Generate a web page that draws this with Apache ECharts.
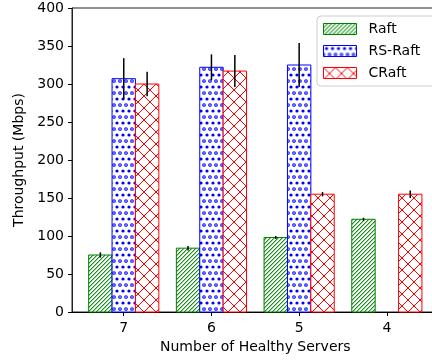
<!DOCTYPE html>
<html>
<head>
<meta charset="utf-8">
<script src="https://cdn.jsdelivr.net/npm/echarts@6/dist/echarts.min.js"></script>
<style>
  html, body { margin: 0; padding: 0; background: #fff; }
  #chart { width: 432px; height: 360px; }
</style>
</head>
<body>
<div id="chart"></div>
<script>
// Throughput per protocol as servers fail
const categories = ['7', '6', '5', '4'];
const seriesNames = ['Raft', 'RS-Raft', 'CRaft'];
const raft = [75, 84, 98, 122];
const raftErr = [3.5, 3, 2, 2];
const rsRaft = [307, 322, 325, null];
const rsRaftErr = [27, 17, 29, null];
const cRaft = [300, 317, 155, 155];
const cRaftErr = [16, 21, 3, 5];
const yTicks = [0, 50, 100, 150, 200, 250, 300, 350, 400];

const FONT = 'DejaVu Sans';
const BAR_W = 0.8 / 3;
const COLORS = ['#008000', '#0000ff', '#ff0000'];

// --- hatch tiles ---------------------------------------------------------
function tile(w, h, draw) {
  const c = document.createElement('canvas');
  c.width = w; c.height = h;
  const ctx = c.getContext('2d');
  ctx.fillStyle = '#fff';
  ctx.fillRect(0, 0, w, h);
  draw(ctx);
  return { image: c, repeat: 'repeat' };
}
function diagHatch(color, soft) {     // '///' drawn as a pixel staircase
  return tile(4, 4, ctx => {
    for (let y = 0; y < 4; y++) {
      for (let x = 0; x < 4; x++) {
        const d = (x + y) % 4;
        if (d === 3) { ctx.fillStyle = color; ctx.fillRect(x, y, 1, 1); }
        else if (d === 0) { ctx.fillStyle = soft; ctx.fillRect(x, y, 1, 1); }
      }
    }
  });
}
function crossHatch(color) {          // 'x'
  return tile(12, 12, ctx => {
    ctx.strokeStyle = color; ctx.lineWidth = 1;
    ctx.beginPath();
    ctx.moveTo(-1, -1); ctx.lineTo(13, 13);
    ctx.moveTo(-1, 13); ctx.lineTo(13, -1);
    ctx.moveTo(-1, 1); ctx.lineTo(1, -1);
    ctx.moveTo(11, 13); ctx.lineTo(13, 11);
    ctx.moveTo(11, -1); ctx.lineTo(13, 1);
    ctx.moveTo(-1, 11); ctx.lineTo(1, 13);
    ctx.stroke();
  });
}
function dotHatch(color) {            // small circles, staggered rows
  return tile(6, 12, ctx => {
    ctx.fillStyle = color; ctx.strokeStyle = color;
    ctx.beginPath(); ctx.arc(3, 3, 1.6, 0, Math.PI * 2); ctx.fill();
    ctx.lineWidth = 1.1;
    [0, 6].forEach(x => {
      ctx.beginPath(); ctx.arc(x, 9, 1.3, 0, Math.PI * 2); ctx.stroke();
    });
  });
}
const patterns = [diagHatch('#109010', '#9fd49f'), dotHatch(COLORS[1]), crossHatch(COLORS[2])];

// --- renderers -----------------------------------------------------------
function barRenderer(k) {
  const offset = (k - 1) * BAR_W;
  return function (params, api) {
    const xi = api.value(0), v = api.value(1);
    if (v == null || isNaN(v)) return;
    const left = xi + offset - BAR_W / 2;
    const p0 = api.coord([left, v]);
    const p1 = api.coord([left + BAR_W, 0]);
    return {
      type: 'rect',
      shape: { x: p0[0], y: p0[1], width: p1[0] - p0[0], height: p1[1] - p0[1] },
      style: { fill: patterns[k], stroke: COLORS[k], lineWidth: 1 }
    };
  };
}
function errRenderer(k) {
  const offset = (k - 1) * BAR_W;
  return function (params, api) {
    const xi = api.value(0), v = api.value(1), e = api.value(2);
    if (v == null || isNaN(v) || isNaN(e)) return;
    const a = api.coord([xi + offset, v - e]);
    const b = api.coord([xi + offset, v + e]);
    return {
      type: 'line',
      shape: { x1: a[0], y1: a[1], x2: b[0], y2: b[1] },
      style: { stroke: '#000', lineWidth: 1.5 }
    };
  };
}

const values = [raft, rsRaft, cRaft];
const errors = [raftErr, rsRaftErr, cRaftErr];
const series = [];
values.forEach((vals, k) => {
  series.push({
    name: seriesNames[k],
    type: 'custom',
    renderItem: barRenderer(k),
    itemStyle: { color: patterns[k], borderColor: COLORS[k], borderWidth: 1 },
    encode: { x: 0, y: 1 },
    data: vals.map((v, i) => [i, v == null ? NaN : v]),
    z: 2
  });
});
values.forEach((vals, k) => {
  series.push({
    name: seriesNames[k] + ' error',
    type: 'custom',
    renderItem: errRenderer(k),
    encode: { x: 0, y: 1 },
    data: vals.map((v, i) => [i, v == null ? NaN : v, errors[k][i] == null ? NaN : errors[k][i]]),
    z: 5
  });
});

const tickIdx = categories.map((c, i) => i);
const chart = echarts.init(document.getElementById('chart'), null, { renderer: 'canvas' });
chart.setOption({
  animation: false,
  textStyle: { fontFamily: FONT },
  grid: {
    left: 72, top: 8, right: -6.6, bottom: 48,
    show: true, borderColor: '#222', borderWidth: 1, backgroundColor: 'transparent',
    outerBoundsMode: 'none', containLabel: false
  },
  legend: {
    orient: 'vertical', left: 317, top: 16,
    itemWidth: 33, itemHeight: 11, itemGap: 8,
    padding: [6, 40, 6, 6],
    borderColor: '#cccccc', borderWidth: 1, borderRadius: 4,
    backgroundColor: 'rgba(255,255,255,0.8)',
    textStyle: { fontFamily: FONT, fontSize: 14, color: '#000', padding: [0, 0, 0, 7] },
    selectedMode: false,
    data: seriesNames.map((n, k) => ({
      name: n, icon: 'rect',
      itemStyle: { color: patterns[k], borderColor: COLORS[k], borderWidth: 1 }
    }))
  },
  xAxis: {
    type: 'value', min: -0.59, max: 3.59,
    name: 'Number of Healthy Servers', nameLocation: 'middle', nameGap: 25,
    nameTextStyle: { fontFamily: FONT, fontSize: 14, color: '#000' },
    axisLine: { show: true, onZero: false, lineStyle: { color: '#000', width: 1 } },
    axisTick: { show: true, customValues: tickIdx, length: 4, lineStyle: { color: '#000' } },
    axisLabel: {
      customValues: tickIdx, margin: 9,
      fontFamily: FONT, fontSize: 14, color: '#000',
      formatter: v => categories[Math.round(v)]
    },
    splitLine: { show: false }
  },
  yAxis: {
    type: 'value', min: yTicks[0], max: yTicks[yTicks.length - 1], interval: yTicks[1] - yTicks[0],
    name: 'Throughput (Mbps)', nameLocation: 'middle', nameGap: 39,
    nameTextStyle: { fontFamily: FONT, fontSize: 14, color: '#000' },
    axisLine: { show: true, onZero: false, lineStyle: { color: '#222', width: 1 } },
    axisTick: { show: true, length: 4, lineStyle: { color: '#000' } },
    axisLabel: { margin: 8, fontFamily: FONT, fontSize: 14, color: '#000' },
    splitLine: { show: false }
  },
  series: series
});
</script>
</body>
</html>
